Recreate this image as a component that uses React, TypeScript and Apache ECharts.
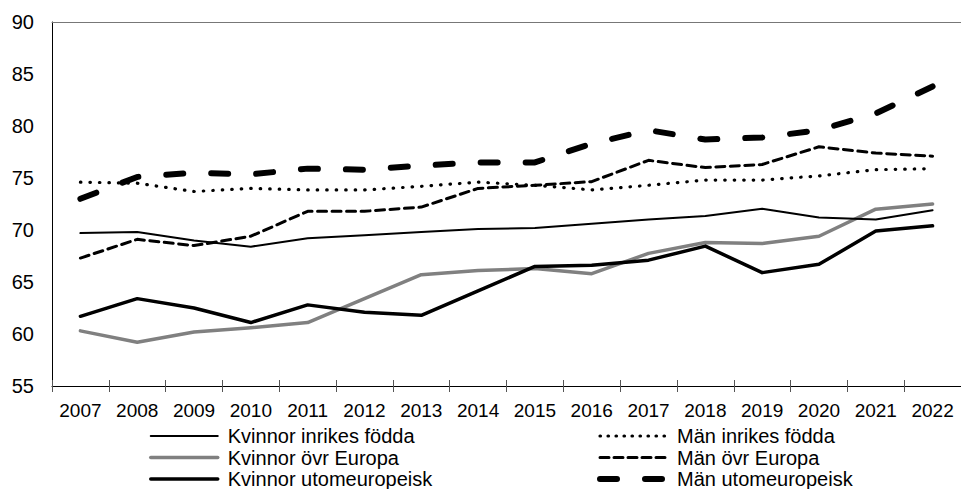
import React, { useEffect, useRef } from "react";
import * as echarts from "echarts";

const years = ["2007","2008","2009","2010","2011","2012","2013","2014","2015","2016","2017","2018","2019","2020","2021","2022"];
const kvinnorInrikes = [69.7, 69.8, 69.0, 68.4, 69.2, 69.5, 69.8, 70.1, 70.2, 70.6, 71.0, 71.35, 72.05, 71.2, 71.0, 71.9];
const kvinnorEuropa = [60.3, 59.2, 60.2, 60.6, 61.1, 63.4, 65.7, 66.1, 66.3, 65.8, 67.75, 68.8, 68.7, 69.4, 72.0, 72.5];
const kvinnorUtom = [61.7, 63.4, 62.5, 61.1, 62.8, 62.1, 61.8, 64.15, 66.5, 66.6, 67.1, 68.45, 65.9, 66.7, 69.9, 70.4];
const manInrikes = [74.6, 74.5, 73.7, 74.0, 73.85, 73.85, 74.2, 74.6, 74.3, 73.85, 74.3, 74.8, 74.8, 75.2, 75.8, 75.9];
const manEuropa = [67.3, 69.1, 68.5, 69.4, 71.8, 71.8, 72.2, 74.0, 74.3, 74.65, 76.7, 76.0, 76.3, 78.0, 77.4, 77.1];
const manUtom = [73.0, 75.1, 75.5, 75.35, 75.9, 75.8, 76.2, 76.5, 76.5, 78.3, 79.6, 78.7, 78.9, 79.6, 81.2, 83.8];

const FONT = "'Liberation Sans', Arial, sans-serif";

type Def = { name: string; data: number[]; color: string; width: number; type: any; legendType: any; z: number };
const defs: Def[] = [
  { name: "Kvinnor inrikes födda", data: kvinnorInrikes, color: "#000", width: 2, type: "solid", legendType: "solid", z: 3 },
  { name: "Kvinnor övr Europa", data: kvinnorEuropa, color: "#808080", width: 3.5, type: "solid", legendType: "solid", z: 2 },
  { name: "Kvinnor utomeuropeisk", data: kvinnorUtom, color: "#000", width: 3.5, type: "solid", legendType: "solid", z: 3 },
  { name: "Män inrikes födda", data: manInrikes, color: "#000", width: 3.2, type: [0.5, 9], legendType: [0.5, 7.5], z: 2 },
  { name: "Män övr Europa", data: manEuropa, color: "#000", width: 3, type: [9, 5.5], legendType: [9, 5], z: 2 },
  { name: "Män utomeuropeisk", data: manUtom, color: "#000", width: 6, type: [17, 28], legendType: [17, 28], z: 4 },
];

export default function App() {
  const ref = useRef<HTMLDivElement>(null);
  useEffect(() => {
    if (!ref.current) return;
    const chart = echarts.init(ref.current, null, { renderer: "svg" });
    const legendItem = (d: Def) => ({
      name: d.name,
      lineStyle: { color: d.color, width: d.width, type: d.legendType, cap: "round" },
    });
    const legendCommon = {
      orient: "vertical",
      top: 426,
      height: 63,
      padding: 0,
      itemWidth: 67,
      itemHeight: 14,
      itemGap: 1.5,
      itemStyle: { opacity: 0 },
      textStyle: { fontSize: 20, color: "#000", fontFamily: FONT, padding: [0, 0, 0, 5] },
    };
    chart.setOption({
      animation: false,
      textStyle: { fontFamily: FONT },
      grid: { left: 52, right: 0, top: 22, bottom: 103, containLabel: false },
      legend: [
        { ...legendCommon, left: 149, data: defs.slice(0, 3).map(legendItem) },
        { ...legendCommon, left: 597, data: defs.slice(3).map(legendItem) },
      ],
      xAxis: [
        {
          type: "category",
          data: years,
          boundaryGap: true,
          axisLine: { show: true, lineStyle: { color: "#000", width: 1 } },
          axisTick: { show: true, length: 6, lineStyle: { color: "#555" } },
          axisLabel: { fontSize: 19, color: "#000", fontFamily: FONT, margin: 15 },
        },
        {
          type: "category",
          data: years,
          position: "bottom",
          boundaryGap: true,
          axisLine: { show: false },
          axisTick: { show: true, inside: true, length: 6, lineStyle: { color: "#555" } },
          axisLabel: { show: false },
        },
        {
          type: "category",
          data: years,
          position: "top",
          axisLine: { show: true, lineStyle: { color: "#777", width: 1 } },
          axisTick: { show: false },
          axisLabel: { show: false },
        },
      ],
      yAxis: {
        type: "value",
        min: 55,
        max: 90,
        interval: 5,
        axisLine: { show: true, lineStyle: { color: "#000", width: 1 } },
        axisTick: { show: false },
        splitLine: { show: false },
        axisLabel: { fontSize: 20, color: "#000", fontFamily: FONT, margin: 18 },
      },
      series: defs.map((d) => ({
        name: d.name,
        type: "line",
        data: d.data,
        symbol: "none",
        z: d.z,
        lineStyle: { color: d.color, width: d.width, type: d.type, cap: "round", join: "round" },
        itemStyle: { color: d.color },
      })),
    });
    return () => chart.dispose();
  }, []);
  return <div ref={ref} style={{ width: 961, height: 489, position: "absolute", left: 0, top: 0 }} />;
}
